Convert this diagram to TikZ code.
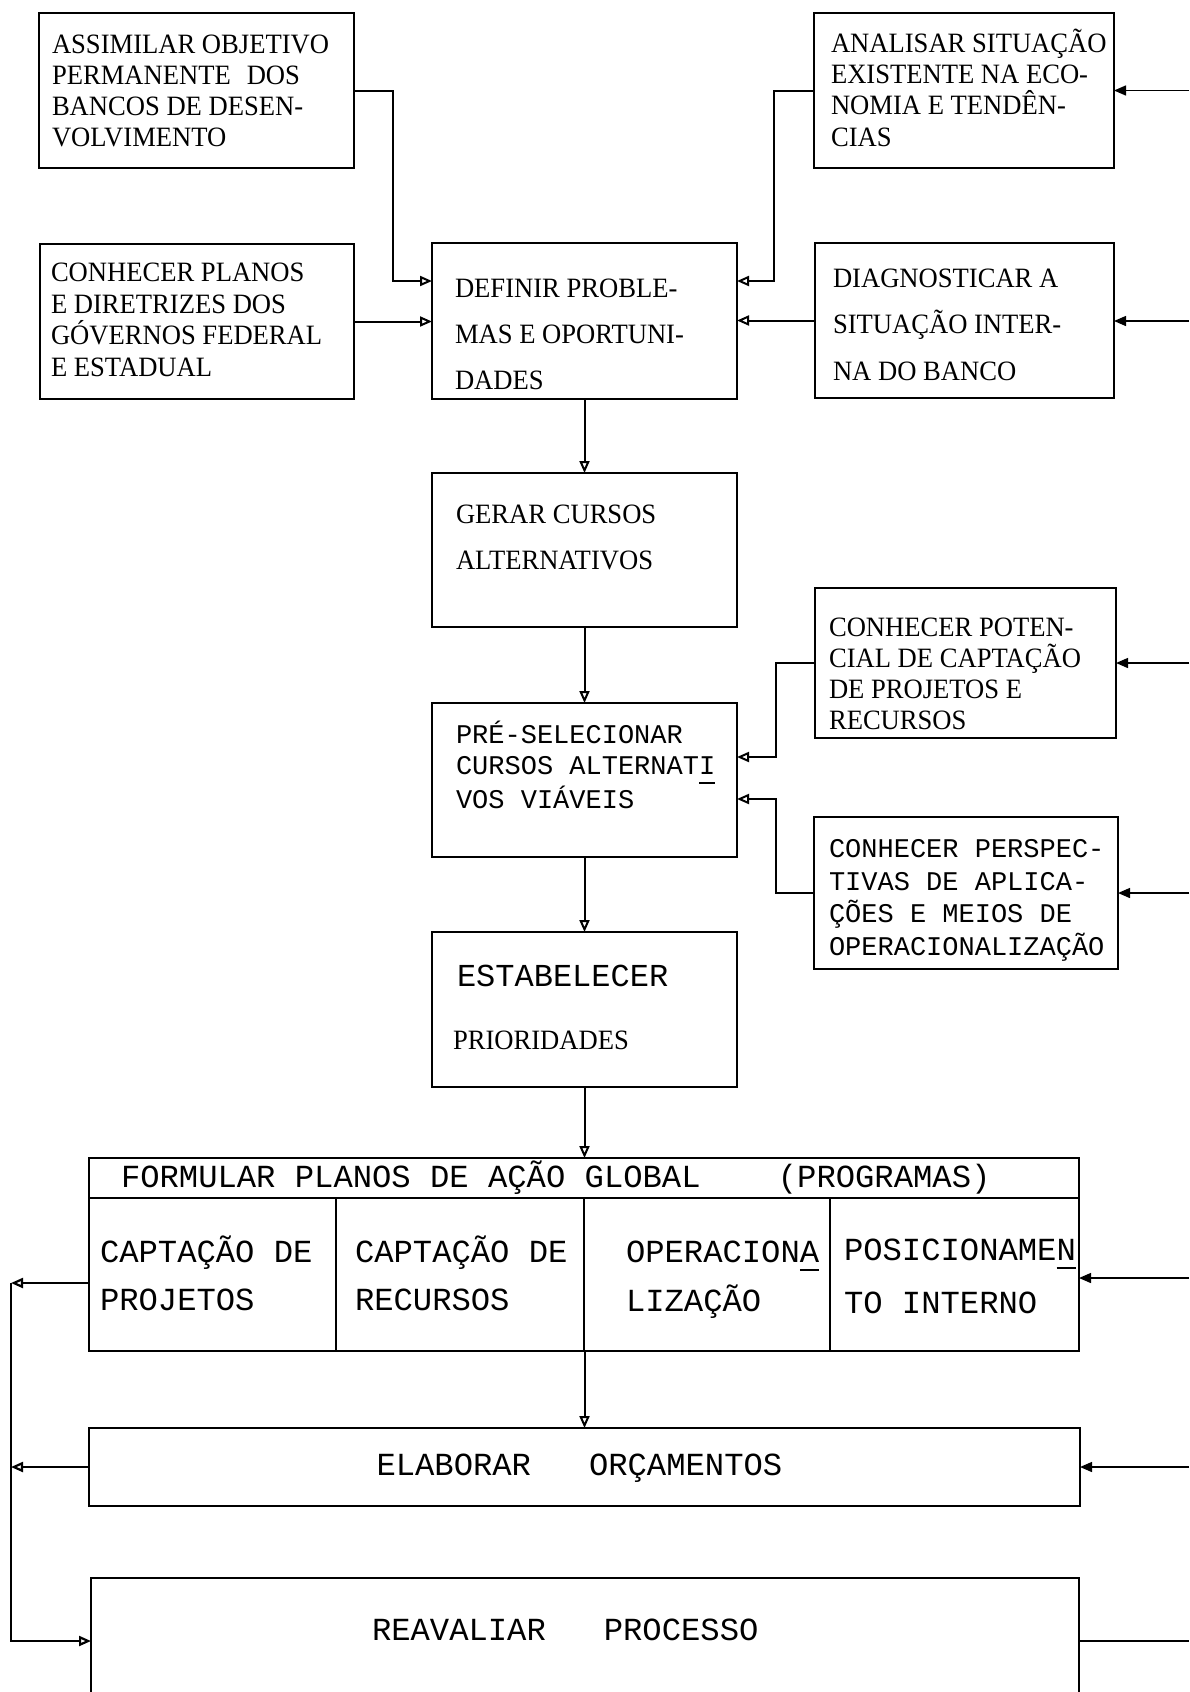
\documentclass[tikz,border=0pt]{standalone}
\usepackage{fontspec}
\newfontfamily\tms[FakeStretch=0.95]{Liberation Serif}
\newfontfamily\cour{Liberation Mono}
\usetikzlibrary{arrows.meta,fit}
% typewriter-style underscore under one character
\newcommand\tul[1]{\leavevmode\rlap{\rule[-4.5pt]{0.6em}{0.8pt}}#1}

\begin{document}
\begin{tikzpicture}[x=0.5pt,y=-0.5pt,
  box/.style={draw,line width=1pt,inner sep=0pt,outer sep=0pt},
  % multi-line texts are placed by the baseline of their last line
  txt/.style={anchor=base west,align=left,inner sep=0pt,outer sep=0pt},
  romtext/.style={txt,font=\tms\fontsize{14pt}{#1}\selectfont},
  monotext/.style={txt,font=\cour\fontsize{13.5pt}{#1}\selectfont},
  bigmono/.style={txt,font=\cour\fontsize{16.1pt}{#1}\selectfont},
  flow/.style={line width=1pt,-{Triangle[open,length=6pt,width=5pt]}},
  feed/.style={line width=0.7pt,-{Triangle[length=6pt,width=5pt]}},
  back/.style={line width=1.1pt,-{Triangle[open,length=6pt,width=5pt]}},
]
\useasboundingbox (0,0) rectangle (1189,1692);
\clip (0,0) rectangle (1189,1692);
\fill[white] (0,0) rectangle (1189,1692);

% ---- inputs on the left
\node[box,fit={(39,13)(354,168)}] (A) {};
\node[romtext=15.5pt] (tA) at (52,146) {ASSIMILAR OBJETIVO\\PERMANENTE\hspace{8pt}DOS\\BANCOS DE DESEN-\\VOLVIMENTO};

\node[box,fit={(40,244)(354,399)}] (B) {};
\node[romtext=15.75pt] (tB) at (51,376) {CONHECER PLANOS\\E DIRETRIZES DOS\\GÓVERNOS FEDERAL\\E ESTADUAL};

% ---- main column
\node[box,fit={(432,243)(737,399)}] (DEF) {};
\node[romtext=23pt] (tDEF) at (455,389.5) {DEFINIR PROBLE-\\MAS E OPORTUNI-\\DADES};

\node[box,fit={(432,473)(737,627)}] (GER) {};
\node[romtext=23pt] (tGER) at (456,569) {GERAR CURSOS\\ALTERNATIVOS};

\node[box,fit={(432,703)(737,857)}] (PRE) {};
\node[monotext=15.35pt] (tPRE) at (456,808) {PRÉ-SELECIONAR\\CURSOS ALTERNAT\tul{I}\\VOS VIÁVEIS};

\node[box,fit={(432,932)(737,1087)}] (EST) {};
\node[txt,font=\cour\fontsize{16pt}{16pt}\selectfont] (tEST1) at (457,986.7) {ESTABELECER};
\node[txt,font=\tms\fontsize{14pt}{14pt}\selectfont] (tEST2) at (453,1049) {PRIORIDADES};

% ---- inputs on the right
\node[box,fit={(814,13)(1114,168)}] (C) {};
\node[romtext=15.6pt] (tC) at (831,146) {ANALISAR SITUAÇÃO\\EXISTENTE NA ECO-\\NOMIA E TENDÊN-\\CIAS};

\node[box,fit={(815,243)(1114,398)}] (D) {};
\node[romtext=23.25pt] (tD) at (833,380) {DIAGNOSTICAR A\\SITUAÇÃO INTER-\\NA DO BANCO};

\node[box,fit={(815,588)(1116,738)}] (E) {};
\node[romtext=15.5pt] (tE) at (829,729) {CONHECER POTEN-\\CIAL DE CAPTAÇÃO\\DE PROJETOS E\\RECURSOS};

\node[box,fit={(814,817)(1118,969)}] (F) {};
\node[monotext=16.2pt] (tF) at (829,955) {CONHECER PERSPEC-\\TIVAS DE APLICA-\\ÇÕES E MEIOS DE\\OPERACIONALIZAÇÃO};

% ---- global action plans with four programme columns
\node[box,fit={(88.5,1158)(1079,1351)}] (FORM) {};
\draw[line width=1pt] (88.5,1198) -- (1079,1198);
\draw[line width=1pt] (336,1198) -- (336,1351) (584,1198) -- (584,1351) (830,1198) -- (830,1351);
\node[bigmono=16pt] (tFORM) at (121,1187) {FORMULAR PLANOS DE AÇÃO GLOBAL\ \ \ \ (PROGRAMAS)};
\node[bigmono=24pt] (c1) at (100,1310) {CAPTAÇÃO DE\\PROJETOS};
\node[bigmono=24pt] (c2) at (355,1310) {CAPTAÇÃO DE\\RECURSOS};
\node[bigmono=24.5pt] (c3) at (626,1311) {OPERACION\tul{A}\\LIZAÇÃO};
\node[bigmono=26.5pt] (c4) at (844,1313) {POSICIONAME\tul{N}\\TO INTERNO};

\node[box,fit={(89,1428)(1080,1506)}] (ELAB) {};
\node[bigmono=16pt] (tELAB) at (376.5,1475) {ELABORAR\ \ \ ORÇAMENTOS};

\node[box,fit={(91,1578)(1079,1704)}] (REAV) {};
\node[bigmono=16pt] (tREAV) at (372,1640) {REAVALIAR\ \ \ PROCESSO};

% ---- bends and free ends
\coordinate (jA) at (393,281);
\coordinate (jC) at (774,281);
\coordinate (jE) at (776,757);
\coordinate (jF) at (776,799);
\coordinate (rC) at (1189,90.5);
\coordinate (rD) at (1189,321);
\coordinate (rE) at (1189,663);
\coordinate (rF) at (1189,893);
\coordinate (rFORM) at (1189,1278);
\coordinate (rELAB) at (1189,1467);
\coordinate (rREAV) at (1189,1641);
\coordinate (lFORM) at (11,1283);
\coordinate (lELAB) at (11,1467);

% ---- connectors
\draw[flow] (A.east) -| (jA) -- (jA -| DEF.west);
\draw[flow] (B.east) -- (B.east -| DEF.west);
\draw[flow] (C.west) -| (jC) -- (jC -| DEF.east);
\draw[flow] (D.west) -- (D.west -| DEF.east);
\draw[flow] (DEF.south) -- (GER.north);
\draw[flow] (GER.south) -- (PRE.north);
\draw[flow] (E.west) -| (jE) -- (jE -| PRE.east);
\draw[flow] (F.west) -| (jF) -- (jF -| PRE.east);
\draw[flow] (PRE.south) -- (EST.north);
\draw[flow] (EST.south) -- (EST.south |- FORM.north);
\draw[flow] (ELAB.north |- FORM.south) -- (ELAB.north);

\draw[feed] (rC) -- (rC -| C.east);
\draw[feed] (rD) -- (rD -| D.east);
\draw[feed] (rE) -- (rE -| E.east);
\draw[feed] (rF) -- (rF -| F.east);
\draw[feed] (rFORM) -- (rFORM -| FORM.east);
\draw[feed] (rELAB) -- (rELAB -| ELAB.east);
\draw[line width=0.7pt] (REAV.east) -- (rREAV);

\draw[back] (lFORM -| FORM.west) -- (lFORM);
\draw[back] (ELAB.west) -- (ELAB.west -| lELAB);
\draw[back] (lFORM) |- (REAV.west);
\end{tikzpicture}
\end{document}
